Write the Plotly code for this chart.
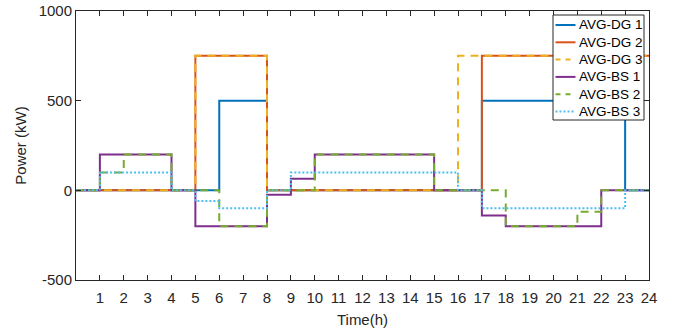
import plotly.graph_objects as go

# Hourly values (kW), each value holds over [h, h+1), h = 0..23
hours = list(range(25))
dg1 = [0, 0, 0, 0, 0, 0, 500, 500, 0, 0, 0, 0, 0, 0, 0, 0, 0, 500, 500, 500, 500, 500, 500, 0]
dg2 = [0, 0, 0, 0, 0, 750, 750, 750, 0, 0, 0, 0, 0, 0, 0, 0, 0, 750, 750, 750, 750, 750, 750, 750]
dg3 = [0, 0, 0, 0, 0, 750, 750, 750, 0, 0, 0, 0, 0, 0, 0, 0, 750, 750, 750, 750, 750, 750, 750, 750]
bs1 = [0, 200, 200, 200, 0, -200, -200, -200, -25, 65, 200, 200, 200, 200, 200, 0, 0, -140, -200, -200, -200, -200, 0, 0]
bs2 = [0, 100, 200, 200, 0, 0, -200, -200, 0, 0, 200, 200, 200, 200, 200, 0, 0, 0, -200, -200, -200, -120, 0, 0]
bs3 = [0, 100, 100, 100, 0, -60, -100, -100, 0, 100, 100, 100, 100, 100, 100, 100, 0, -100, -100, -100, -100, -100, -100, 0]

names = ["AVG-DG 1", "AVG-DG 2", "AVG-DG 3", "AVG-BS 1", "AVG-BS 2", "AVG-BS 3"]
colors = ["#0072BD", "#D95319", "#EDB120", "#7E2F8E", "#77AC30", "#4DBEEE"]
dashes = ["solid", "solid", "8px,6px", "solid", "8px,6px", "2px,2px"]
series = [dg1, dg2, dg3, bs1, bs2, bs3]

x_ticks = list(range(1, 25))
y_ticks = [-500, 0, 500, 1000]

W, H = 678, 333
ML, MR, MT, MB = 76, 29, 11, 53
PW, PH = W - ML - MR, H - MT - MB


def px(x):
    return (x - ML) / PW


def py(y):
    return 1 - (y - MT) / PH


fig = go.Figure()
for name, col, dash, vals in zip(names, colors, dashes, series):
    fig.add_trace(go.Scatter(
        x=hours, y=vals + [vals[-1]], name=name, mode="lines", showlegend=False,
        line=dict(color=col, width=2, dash=dash, shape="hv"),
    ))

# Legend box drawn in MATLAB style
shapes = [dict(type="rect", xref="paper", yref="paper",
               x0=px(553), x1=px(644), y0=py(120), y1=py(15),
               fillcolor="white", line=dict(color="#262626", width=1), layer="above")]
annotations = []
row0, rowgap = 25, 17.3
for i, (name, col, dash) in enumerate(zip(names, colors, dashes)):
    yy = row0 + i * rowgap
    shapes.append(dict(type="line", xref="paper", yref="paper",
                       x0=px(555.5), x1=px(575.5), y0=py(yy), y1=py(yy),
                       line=dict(color=col, width=2, dash=("5px,5px" if "8px" in dash else dash)),
                       layer="above"))
    annotations.append(dict(xref="paper", yref="paper", x=px(577), y=py(yy),
                            xanchor="left", yanchor="middle", showarrow=False,
                            text=name, font=dict(size=13.5, color="#000000",
                                                 family="Liberation Sans, Arial")))

axis_common = dict(
    showline=True, linecolor="#262626", linewidth=1, mirror="allticks",
    ticks="inside", ticklen=5, tickcolor="#262626", showgrid=False, zeroline=False,
    automargin=False,
    tickfont=dict(family="Liberation Sans, Arial", size=15, color="#262626"),
)

fig.update_layout(
    width=W, height=H,
    margin=dict(l=ML, r=MR, t=MT, b=MB),
    plot_bgcolor="white", paper_bgcolor="white",
    font=dict(family="Liberation Sans, Arial", color="#262626"),
    xaxis=dict(range=[0, 24], tickvals=x_ticks, ticktext=[str(t) for t in x_ticks],
               ticklabelstandoff=4,
               title=dict(text="Time(h)", font=dict(size=15), standoff=9), **axis_common),
    yaxis=dict(range=[-500, 1000], tickvals=y_ticks, ticktext=[str(t) for t in y_ticks],
               title=dict(text="Power (kW)", font=dict(size=15), standoff=8), **axis_common),
    shapes=shapes, annotations=annotations,
)

fig.write_html("out.html")
